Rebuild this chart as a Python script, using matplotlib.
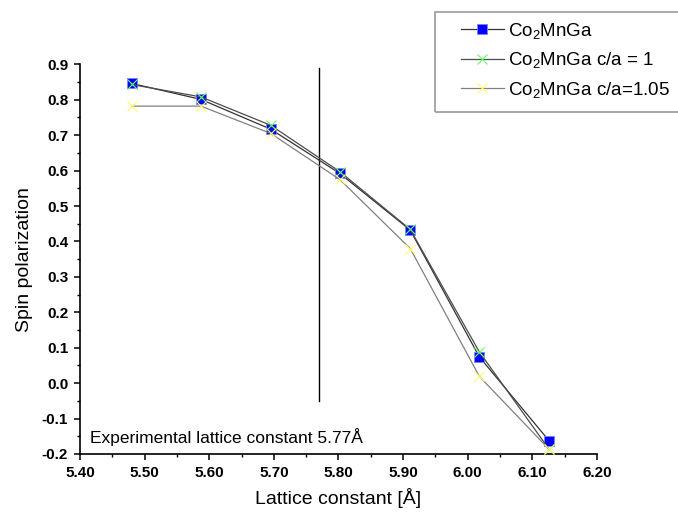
import matplotlib
matplotlib.use("Agg")
import matplotlib.pyplot as plt
from matplotlib.patches import Rectangle
from matplotlib.ticker import MultipleLocator, FormatStrFormatter

plt.rcParams['font.family'] = ['Liberation Sans', 'DejaVu Sans']
plt.rcParams['mathtext.default'] = 'regular'

# Lattice constants (Å) and spin polarization for each configuration
lattice = [5.480, 5.587, 5.695, 5.802, 5.911, 6.018, 6.126]
p_cubic = [0.846, 0.801, 0.717, 0.592, 0.432, 0.074, -0.163]
p_ca_1 = [0.843, 0.808, 0.728, 0.597, 0.434, 0.088, -0.187]
p_ca_105 = [0.782, 0.782, 0.705, 0.575, 0.380, 0.019, -0.187]

labels = ['Co$_2$MnGa', 'Co$_2$MnGa c/a = 1', 'Co$_2$MnGa c/a=1.05']
exp_lattice = 5.77
exp_text = 'Experimental lattice constant 5.77Å'

fig = plt.figure(figsize=(6.78, 5.12), dpi=100)
ax = fig.add_axes([0.118, 0.1133, 0.7625, 0.7611])

l1, = ax.plot(lattice, p_cubic, color='#333333', lw=0.9, marker='s', ms=6.8,
              mfc='#0000ff', mec='#7f7fff', mew=0.6, zorder=3)
l2, = ax.plot(lattice, p_ca_1, color='#4d4d4d', lw=0.9, marker='x', ms=7,
              mec='#66ff66', mew=0.8, zorder=4)
l3, = ax.plot(lattice, p_ca_105, color='#808080', lw=0.9, marker='x', ms=7,
              mec='#ffff66', mew=0.8, zorder=4)

ax.plot([exp_lattice, exp_lattice], [-0.05, 0.89], color='black', lw=1.0)
ax.text(5.415, -0.152, exp_text, fontsize=12.5, va='center', ha='left')

ax.set_xlim(5.40, 6.20)
ax.set_ylim(-0.2, 0.9)
ax.xaxis.set_major_locator(MultipleLocator(0.1))
ax.xaxis.set_minor_locator(MultipleLocator(0.05))
ax.yaxis.set_major_locator(MultipleLocator(0.1))
ax.yaxis.set_minor_locator(MultipleLocator(0.05))
ax.xaxis.set_major_formatter(FormatStrFormatter('%.2f'))
ax.yaxis.set_major_formatter(FormatStrFormatter('%.1f'))

for s in ['top', 'right']:
    ax.spines[s].set_visible(False)
for s in ['left', 'bottom']:
    ax.spines[s].set_linewidth(1.2)

ax.tick_params(which='major', direction='out', length=4.5, width=1.1,
               labelsize=11, pad=4)
ax.tick_params(which='minor', direction='out', length=2.5, width=1.0)
for lab in ax.get_xticklabels() + ax.get_yticklabels():
    lab.set_fontweight('bold')

ax.set_xlabel('Lattice constant [Å]', fontsize=14, labelpad=6)
ax.set_ylabel('Spin polarization', fontsize=14, labelpad=6)

# Legend box
fig.patches.append(Rectangle((435 / 678, 1 - 112 / 512), 0.40, (112 - 11.7) / 512,
                             transform=fig.transFigure, fill=False,
                             edgecolor='#999999', lw=1.2))
fig.legend([l1, l2, l3], labels, loc='upper left',
           bbox_to_anchor=(457 / 678, 1 - 17 / 512), bbox_transform=fig.transFigure,
           frameon=False, fontsize=13.5, handlelength=2.3, handletextpad=0.2,
           labelspacing=0.5, borderpad=0.2, borderaxespad=0)

fig.savefig('out.png', dpi=100)
